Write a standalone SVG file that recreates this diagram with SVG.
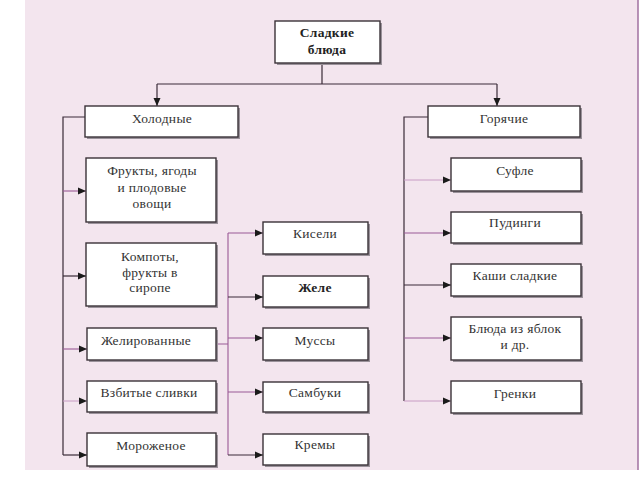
<svg xmlns="http://www.w3.org/2000/svg" width="640" height="480" viewBox="0 0 640 480">
<defs>
<style>
.box{fill:#fff;stroke:#3a3238;stroke-width:1.4}
.sh{fill:#9a929a}
.t{font-family:'Liberation Serif','DejaVu Serif','Times New Roman',serif;font-size:13.5px;fill:#333;text-anchor:middle;letter-spacing:0.3px}
.b{font-weight:bold;fill:#222}
.ln{fill:none;stroke:#3a2a38;stroke-width:1.2}
.lp{fill:none;stroke:#9a5a96;stroke-width:1.1}
.ll{fill:none;stroke:#c89cc4;stroke-width:1}
</style>
<marker id="ar" viewBox="0 0 8 8" refX="8" refY="4" markerWidth="8" markerHeight="8" markerUnits="userSpaceOnUse" orient="auto">
<path d="M0,0.5 L8,4 L0,7.5 Z" fill="#1a1a1a"/>
</marker>
</defs>
<rect x="0" y="0" width="640" height="480" fill="#fff"/>
<rect x="25" y="0" width="613" height="470" fill="#f3e5ee"/>
<line x1="638" y1="0" x2="638" y2="470" stroke="#a070a0" stroke-width="1.5"/>

<g id="connectors">
<path class="ln" d="M322,63 V84 M157,84 H497"/>
<path class="ln" d="M157,84 V106" marker-end="url(#ar)"/>
<path class="ln" d="M497,84 V106" marker-end="url(#ar)"/>
<path class="ln" d="M85,117 H63 V455"/>
<path class="lp" d="M63,191 H86" marker-end="url(#ar)"/>
<path class="ln" d="M63,276 H86" marker-end="url(#ar)"/>
<path class="lp" d="M63,349 H87" marker-end="url(#ar)"/>
<path class="ll" d="M63,401 H87" marker-end="url(#ar)"/>
<path class="ln" d="M63,455 H87" marker-end="url(#ar)"/>
<path class="lp" d="M216,344 H228 M228,233 V455"/>
<path class="lp" d="M228,233 H263" marker-end="url(#ar)"/>
<path class="ln" d="M228,297 H263" marker-end="url(#ar)"/>
<path class="lp" d="M228,338 H263" marker-end="url(#ar)"/>
<path class="lp" d="M228,392 H263" marker-end="url(#ar)"/>
<path class="ln" d="M228,455 H263" marker-end="url(#ar)"/>
<path class="ln" d="M428,117 H404 V401"/>
<path class="ll" d="M404,180 H451" marker-end="url(#ar)"/>
<path class="lp" d="M404,233 H451" stroke-width="1.5" marker-end="url(#ar)"/>
<path class="ln" d="M404,285 H451" marker-end="url(#ar)"/>
<path class="lp" d="M404,338 H451" marker-end="url(#ar)"/>
<path class="ll" d="M404,401 H451" marker-end="url(#ar)"/>
</g>

<g id="n-sladkie">
<rect class="sh" x="277" y="23" width="105" height="42"/>
<rect class="box" x="275" y="21" width="105" height="42"/>
<text class="t b" x="327" y="37">Сладкие</text>
<text class="t b" x="327" y="54">блюда</text>
</g>
<g id="n-holodnye">
<rect class="sh" x="87" y="108" width="153" height="31"/>
<rect class="box" x="85" y="106" width="153" height="31"/>
<text class="t" x="162" y="123">Холодные</text>
</g>
<g id="n-goryachie">
<rect class="sh" x="430" y="108" width="152" height="31"/>
<rect class="box" x="428" y="106" width="152" height="31"/>
<text class="t" x="504" y="123">Горячие</text>
</g>

<g id="n-frukty">
<rect class="sh" x="88" y="160" width="130" height="64"/>
<rect class="box" x="86" y="158" width="130" height="64"/>
<text class="t" x="152" y="175">Фрукты, ягоды</text>
<text class="t" x="152" y="192">и плодовые</text>
<text class="t" x="152" y="208">овощи</text>
</g>
<g id="n-kompoty">
<rect class="sh" x="88" y="245" width="130" height="63"/>
<rect class="box" x="86" y="243" width="130" height="63"/>
<text class="t" x="150" y="261">Компоты,</text>
<text class="t" x="150" y="277">фрукты в</text>
<text class="t" x="150" y="292">сиропе</text>
</g>
<g id="n-zhelirovannye">
<rect class="sh" x="89" y="330" width="129" height="32"/>
<rect class="box" x="87" y="328" width="129" height="32"/>
<text class="t" x="146" y="345">Желированные</text>
</g>
<g id="n-vzbitye">
<rect class="sh" x="89" y="383" width="129" height="31"/>
<rect class="box" x="87" y="381" width="129" height="31"/>
<text class="t" x="149" y="397">Взбитые сливки</text>
</g>
<g id="n-morozhenoe">
<rect class="sh" x="89" y="435" width="129" height="33"/>
<rect class="box" x="87" y="433" width="129" height="33"/>
<text class="t" x="151" y="450">Мороженое</text>
</g>

<g id="n-kiseli">
<rect class="sh" x="265" y="224" width="105" height="32"/>
<rect class="box" x="263" y="222" width="105" height="32"/>
<text class="t" x="315" y="238">Кисели</text>
</g>
<g id="n-zhele">
<rect class="sh" x="265" y="278" width="105" height="31"/>
<rect class="box" x="263" y="276" width="105" height="31"/>
<text class="t b" x="315" y="292">Желе</text>
</g>
<g id="n-mussy">
<rect class="sh" x="265" y="330" width="105" height="32"/>
<rect class="box" x="263" y="328" width="105" height="32"/>
<text class="t" x="315" y="345">Муссы</text>
</g>
<g id="n-sambuki">
<rect class="sh" x="265" y="384" width="105" height="30"/>
<rect class="box" x="263" y="382" width="105" height="30"/>
<text class="t" x="315" y="397">Самбуки</text>
</g>
<g id="n-kremy">
<rect class="sh" x="265" y="436" width="105" height="31"/>
<rect class="box" x="263" y="434" width="105" height="31"/>
<text class="t" x="315" y="449">Кремы</text>
</g>

<g id="n-sufle">
<rect class="sh" x="453" y="160" width="130" height="33"/>
<rect class="box" x="451" y="158" width="130" height="33"/>
<text class="t" x="515" y="175">Суфле</text>
</g>
<g id="n-pudingi">
<rect class="sh" x="453" y="214" width="130" height="31"/>
<rect class="box" x="451" y="212" width="130" height="31"/>
<text class="t" x="515" y="227">Пудинги</text>
</g>
<g id="n-kashi">
<rect class="sh" x="453" y="266" width="130" height="32"/>
<rect class="box" x="451" y="264" width="130" height="32"/>
<text class="t" x="515" y="280">Каши сладкие</text>
</g>
<g id="n-blyuda-yabloki">
<rect class="sh" x="453" y="319" width="130" height="43"/>
<rect class="box" x="451" y="317" width="130" height="43"/>
<text class="t" x="515" y="333">Блюда из яблок</text>
<text class="t" x="515" y="349">и др.</text>
</g>
<g id="n-grenki">
<rect class="sh" x="453" y="383" width="130" height="32"/>
<rect class="box" x="451" y="381" width="130" height="32"/>
<text class="t" x="515" y="398">Гренки</text>
</g>
</svg>
